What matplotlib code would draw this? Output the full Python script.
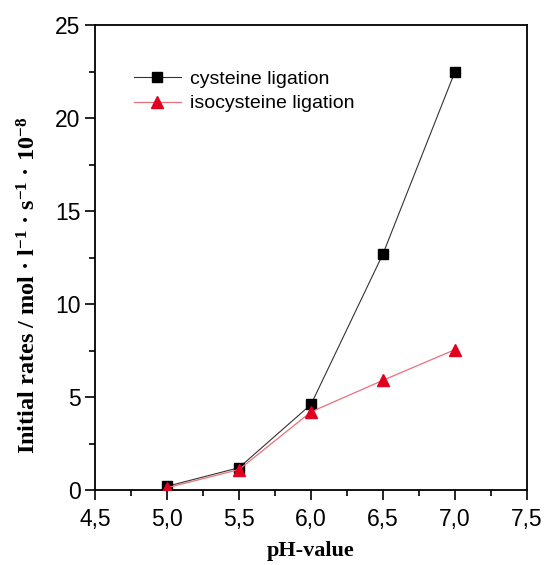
import matplotlib.pyplot as plt
from matplotlib.ticker import MultipleLocator, FuncFormatter

plt.rcParams['mathtext.fontset'] = 'custom'
plt.rcParams['mathtext.rm'] = 'Liberation Serif:bold'
plt.rcParams['mathtext.it'] = 'Liberation Serif:bold'
plt.rcParams['mathtext.bf'] = 'Liberation Serif:bold'
plt.rcParams['mathtext.default'] = 'rm'

ph = [5.0, 5.5, 6.0, 6.5, 7.0]
cysteine = [0.2, 1.2, 4.6, 12.7, 22.5]
isocysteine = [0.12, 1.1, 4.2, 5.9, 7.55]

fig = plt.figure(figsize=(5.44, 5.65), dpi=100)
ax = fig.add_axes([0.1746, 0.1327, 0.7942, 0.823])

ax.plot(ph, cysteine, color='#333333', lw=0.8, marker='s', ms=7.5,
        mfc='black', mec='black', label='cysteine ligation', zorder=3)
ax.plot(ph, isocysteine, color='#e8707a', lw=0.9, marker='^', ms=8,
        mfc='#e00020', mec='#e00020', label='isocysteine ligation', zorder=4)

ax.set_xlim(4.5, 7.5)
ax.set_ylim(0, 25)
ax.xaxis.set_major_locator(MultipleLocator(0.5))
ax.xaxis.set_minor_locator(MultipleLocator(0.25))
ax.yaxis.set_major_locator(MultipleLocator(5))
ax.yaxis.set_minor_locator(MultipleLocator(2.5))
ax.xaxis.set_major_formatter(FuncFormatter(lambda v, p: f'{v:.1f}'.replace('.', ',')))

for s in ax.spines.values():
    s.set_linewidth(1.3)
ax.tick_params(which='major', direction='out', length=7, width=1.2,
               labelsize=16.5, top=False, right=False)
ax.tick_params(axis='x', which='major', pad=6)
ax.tick_params(which='minor', direction='out', length=4, width=1.2,
               top=False, right=False)
for lab in ax.get_xticklabels() + ax.get_yticklabels():
    lab.set_fontfamily('Liberation Sans')

ax.set_xlabel('pH-value', fontfamily='Liberation Serif', fontweight='bold',
              fontsize=16, labelpad=7)
ax.set_ylabel('Initial rates / mol · l$^{-1}$ · s$^{-1}$ · 10$^{-8}$',
              fontfamily='Liberation Serif', fontweight='bold', fontsize=17.5)
ax.yaxis.set_label_coords(-0.125, 0.44)

leg = ax.legend(loc='upper left', bbox_to_anchor=(0.05, 0.94), frameon=False,
                prop={'family': 'Liberation Sans', 'size': 14},
                handlelength=2.4, handletextpad=0.5, labelspacing=0.35)

fig.savefig('out.png', dpi=100)
